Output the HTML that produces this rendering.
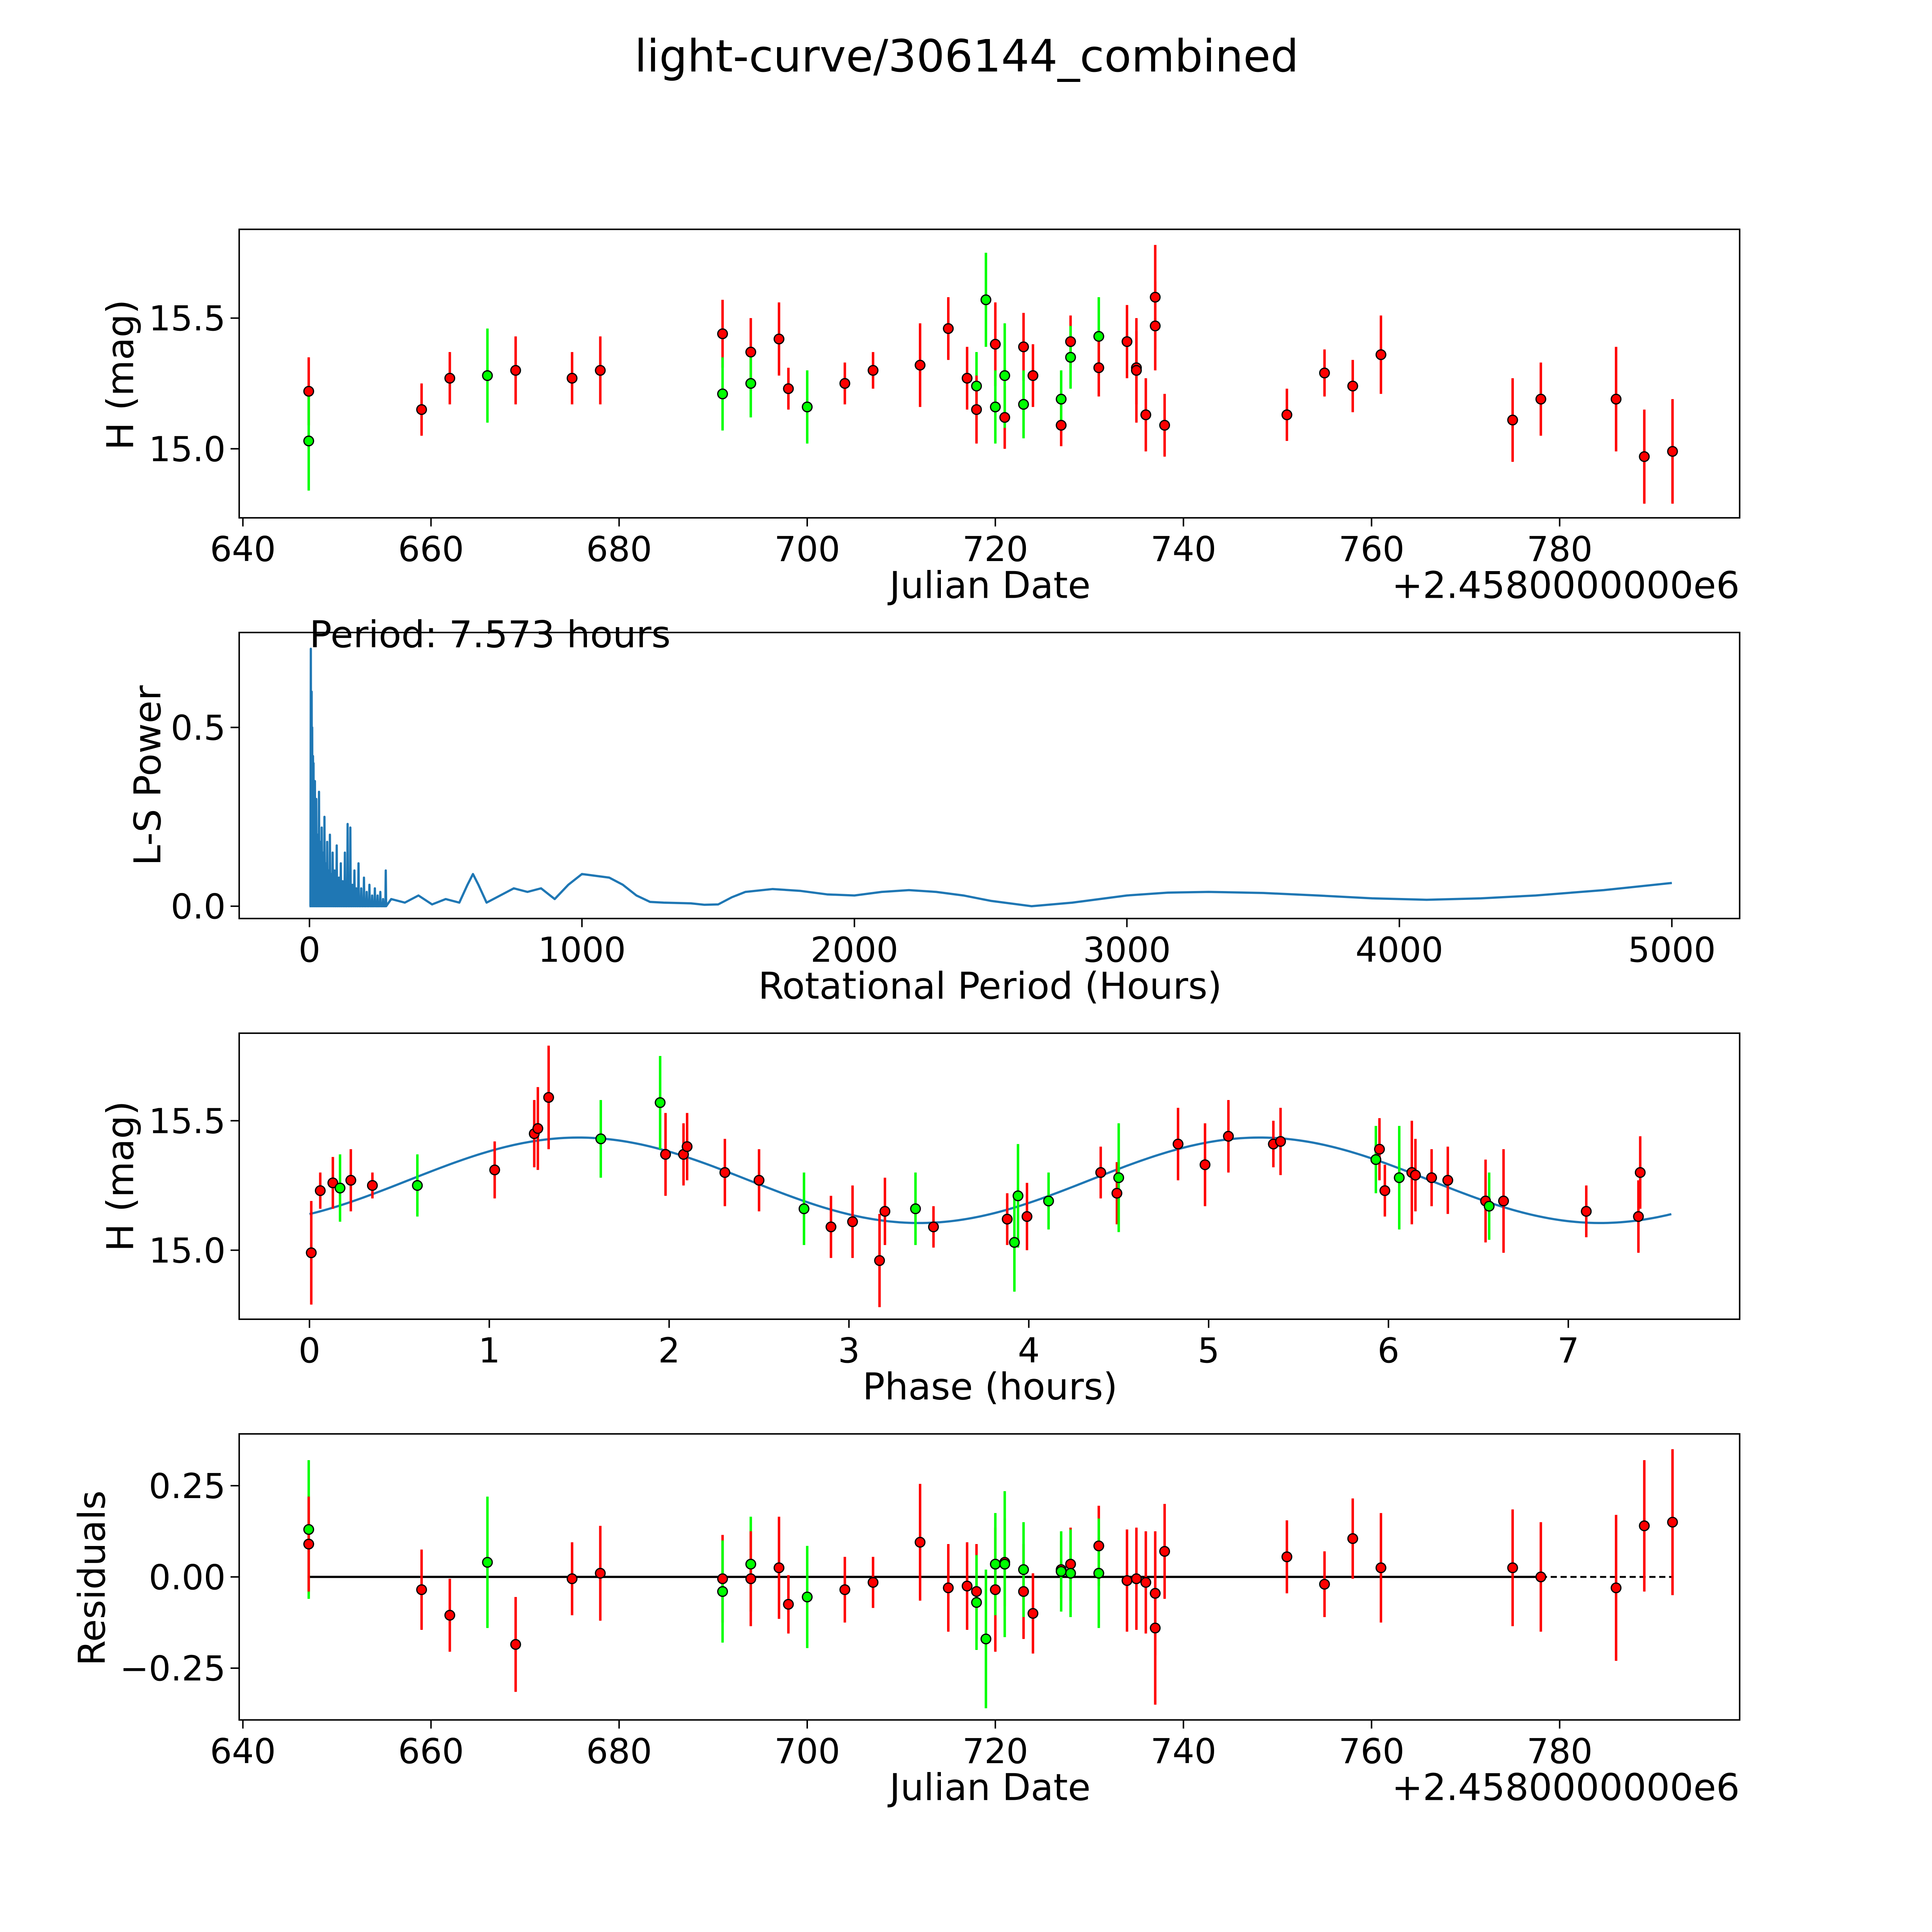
<!DOCTYPE html>
<html><head><meta charset="utf-8"><style>html,body{margin:0;padding:0;background:#fff;overflow:hidden;width:100vw;height:100vh}svg{display:block;width:100vw;height:100vh}text{font-family:"DejaVu Sans","Liberation Sans",sans-serif;fill:#000}</style></head>
<body>
<svg id="fig" viewBox="0 0 1567 1567" preserveAspectRatio="none" xmlns="http://www.w3.org/2000/svg">
<rect x="0" y="0" width="1567" height="1567" fill="#fff"/>
<text x="784" y="58" font-size="36" text-anchor="middle">light-curve/306144_combined</text>
</svg>
<script>
// ---- data ----
const obsDate=[647,647,659,662,666,669,675,678,691,691,694,694,697,698,700,704,707,712,715,717,718,718,719,720,720,721,721,723,723,724,727,727,728,728,731,731,734,735,735,736,737,737,738,751,755,758,761,775,778,786,789,792];
const obsMag=[15.22,15.03,15.15,15.27,15.28,15.30,15.27,15.30,15.44,15.21,15.37,15.25,15.42,15.23,15.16,15.25,15.30,15.32,15.46,15.27,15.24,15.15,15.57,15.40,15.16,15.12,15.28,15.39,15.17,15.28,15.09,15.19,15.41,15.35,15.43,15.31,15.41,15.31,15.30,15.13,15.58,15.47,15.09,15.13,15.29,15.24,15.36,15.11,15.19,15.19,14.97,14.99];
const obsErr=[0.13,0.19,0.10,0.10,0.18,0.13,0.10,0.13,0.13,0.14,0.13,0.13,0.14,0.08,0.14,0.08,0.07,0.16,0.12,0.12,0.13,0.13,0.18,0.16,0.14,0.12,0.20,0.13,0.13,0.12,0.08,0.11,0.10,0.12,0.15,0.11,0.14,0.14,0.20,0.14,0.20,0.17,0.12,0.10,0.09,0.10,0.15,0.16,0.14,0.20,0.18,0.20];
const obsBand=['r','g','r','r','g','r','r','r','r','g','r','g','r','r','g','r','r','r','r','r','g','r','g','r','g','r','g','r','g','r','r','g','r','g','g','r','r','r','r','r','r','r','r','r','r','r','r','r','r','r','r','r'];

const phaseVal=[0.01,0.06,0.13,0.17,0.23,0.35,0.6,1.03,1.25,1.27,1.33,1.62,1.95,1.98,2.08,2.1,2.31,2.5,2.75,2.9,3.02,3.17,3.2,3.37,3.47,3.88,3.92,3.94,3.99,4.11,4.4,4.49,4.5,4.83,4.98,5.11,5.36,5.4,5.93,5.95,5.98,6.06,6.13,6.15,6.24,6.33,6.54,6.56,6.64,7.1,7.39,7.4];
const phaseMag=[14.99,15.23,15.26,15.24,15.27,15.25,15.25,15.31,15.45,15.47,15.59,15.43,15.57,15.37,15.37,15.40,15.30,15.27,15.16,15.09,15.11,14.96,15.15,15.16,15.09,15.12,15.03,15.21,15.13,15.19,15.30,15.22,15.28,15.41,15.33,15.44,15.41,15.42,15.35,15.39,15.23,15.28,15.30,15.29,15.28,15.27,15.19,15.17,15.19,15.15,15.13,15.30];
const phaseErr=[0.2,0.07,0.1,0.13,0.12,0.05,0.12,0.11,0.13,0.16,0.2,0.15,0.18,0.16,0.12,0.13,0.13,0.12,0.14,0.12,0.14,0.18,0.13,0.14,0.08,0.1,0.19,0.2,0.13,0.11,0.1,0.12,0.21,0.14,0.16,0.14,0.09,0.13,0.13,0.12,0.1,0.2,0.2,0.14,0.11,0.13,0.16,0.13,0.2,0.1,0.14,0.14];
const phaseBand=['r','r','r','g','r','r','g','r','r','r','r','g','g','r','r','r','r','r','g','r','r','r','r','g','r','r','g','g','r','g','r','r','g','r','r','r','r','r','g','r','r','g','r','r','r','r','r','g','r','r','r','r'];

const fitMean=[15.27];const fitAmp=[0.165];const fitPhase0=[0.55];const fitHalfPeriod=[3.787];const fitPeriod=[7.573];

const resDate=[647,647,659,662,666,669,675,678,691,691,694,694,697,698,700,704,707,712,715,717,718,718,719,720,720,721,721,723,723,724,727,727,728,728,731,731,734,735,736,737,737,738,751,755,758,761,775,778,786,789,792];
const resVal=[0.13,0.09,-0.035,-0.105,0.04,-0.185,-0.005,0.01,-0.005,-0.04,0.035,-0.005,0.025,-0.075,-0.055,-0.035,-0.015,0.095,-0.03,-0.025,-0.04,-0.07,-0.17,-0.035,0.035,0.04,0.035,-0.04,0.02,-0.1,0.02,0.015,0.035,0.01,0.085,0.01,-0.01,-0.005,-0.015,-0.045,-0.14,0.07,0.055,-0.02,0.105,0.025,0.025,0,-0.03,0.14,0.15];
const resErr=[0.19,0.13,0.11,0.1,0.18,0.13,0.1,0.13,0.12,0.14,0.13,0.13,0.14,0.08,0.14,0.09,0.07,0.16,0.12,0.12,0.13,0.13,0.19,0.17,0.14,0.12,0.2,0.13,0.13,0.11,0.08,0.11,0.1,0.12,0.11,0.15,0.14,0.14,0.14,0.17,0.21,0.13,0.1,0.09,0.11,0.15,0.16,0.15,0.2,0.18,0.2];
const resBand=['g','r','r','r','g','r','r','r','r','g','g','r','r','r','g','r','r','r','r','r','r','g','g','r','g','r','g','r','g','r','r','g','r','g','r','g','r','r','r','r','r','r','r','r','r','r','r','r','r','r','r'];

const lsSpikeP=[5,8,10,13,15,18,20,23,25,30,35,40,45,50,55,60,65,70,75,80,85,92,100,108,115,122,130,140,150,158,165,172,180,190,200,210,220,230,240,250,260,270,280];
const lsSpikeH=[0.72,0.6,0.5,0.42,0.4,0.3,0.35,0.28,0.3,0.2,0.32,0.18,0.22,0.15,0.25,0.12,0.18,0.1,0.2,0.09,0.15,0.1,0.17,0.08,0.12,0.07,0.15,0.23,0.22,0.06,0.1,0.05,0.12,0.05,0.08,0.04,0.06,0.03,0.05,0.03,0.04,0.02,0.1];
const lsSmoothP=[300,350,400,450,500,550,580,600,620,650,700,750,800,850,900,950,1000,1050,1100,1150,1200,1250,1300,1400,1450,1500,1550,1600,1700,1800,1900,2000,2100,2200,2300,2400,2500,2650,2800,3000,3150,3300,3500,3700,3900,4100,4300,4500,4750,5000];
const lsSmoothH=[0.02,0.01,0.03,0.005,0.02,0.01,0.06,0.09,0.06,0.01,0.03,0.05,0.04,0.05,0.02,0.06,0.09,0.085,0.08,0.06,0.03,0.012,0.01,0.008,0.004,0.005,0.025,0.04,0.048,0.043,0.033,0.03,0.04,0.045,0.04,0.03,0.015,0.0,0.01,0.03,0.038,0.04,0.037,0.03,0.022,0.018,0.022,0.03,0.045,0.065];

const dateTicks=[640,660,680,700,720,740,760,780];
const magTicks=[15.0,15.5];
const magTickLabels=['15.0','15.5'];
const lsXTicks=[0,1000,2000,3000,4000,5000];
const lsYTicks=[0.0,0.5];
const phaseTicks=[0,1,2,3,4,5,6,7];
const resTicks=[-0.25,0,0.25];
const resTickLabels=['\u22120.25','0.00','0.25'];

// ---- drawing ----
const NS='http://www.w3.org/2000/svg';
const svg=document.getElementById('fig');
function mk(tag,attrs,parent){const e=document.createElementNS(NS,tag);for(const k in attrs)e.setAttribute(k,attrs[k]);(parent||svg).appendChild(e);return e;}
function lin(d0,d1,p0,p1){return v=>p0+(v-d0)*(p1-p0)/(d1-d0);}
const L=194,R=1411;
const xDate=lin(640,780,197,1265);
const COL={r:'#ff0000',g:'#00ff00'};

function frame(name,top,bot){
  const r=mk('rect',{x:L,y:top,width:R-L,height:bot-top,fill:'none',stroke:'#000','stroke-width':1.2});
  
  
}
function xticks(name,ticks,fx,bot,labels){
  const g=mk('g',{});
  
  
  ticks.forEach((t,i)=>{const x=fx(t);mk('line',{x1:x,x2:x,y1:bot,y2:bot+7,stroke:'#000','stroke-width':1.2},g);
    const tx=mk('text',{x:x,y:bot+35,'font-size':28,'text-anchor':'middle'},g);tx.textContent=labels?labels[i]:String(t);});
}
function yticks(name,ticks,fy,labels){
  const g=mk('g',{});
  
  
  ticks.forEach((t,i)=>{const y=fy(t);mk('line',{x1:L-7,x2:L,y1:y,y2:y,stroke:'#000','stroke-width':1.2},g);
    const tx=mk('text',{x:L-11,y:y+10,'font-size':28,'text-anchor':'end'},g);tx.textContent=labels?labels[i]:String(t);});
}
function label(name,txt,x,y,rot){
  const t=mk('text',{x:x,y:y,'font-size':30,'text-anchor':'middle'});
  if(rot)t.setAttribute('transform','rotate(-90 '+x+' '+y+')');
  t.textContent=txt;
  
  
}
function points(name,xs,ys,es,bs,fx,fy){
  const g=mk('g',{});
  
  
  xs.forEach((xv,i)=>{const x=fx(xv),c=COL[bs[i]];
    const eb=mk('line',{x1:x,x2:x,y1:fy(ys[i]-es[i]),y2:fy(ys[i]+es[i]),stroke:c,'stroke-width':2},g);
    
    });
  xs.forEach((xv,i)=>{const p=mk('circle',{cx:fx(xv),cy:fy(ys[i]),r:3.9,fill:COL[bs[i]],stroke:'#000','stroke-width':1},g);
    
    });
}
function plus(y){const t=mk('text',{x:R,y:y,'font-size':30,'text-anchor':'end'});t.textContent='+2.4580000000e6';
  
  }

// Panel 1
const y1=lin(15.0,15.5,364,258);
frame('lightcurve-axes',186,420);
points('lightcurve-points',obsDate,obsMag,obsErr,obsBand,xDate,y1);
xticks('lightcurve-x-ticks',dateTicks,xDate,420);
yticks('lightcurve-y-ticks',magTicks,y1,magTickLabels);
label('lightcurve-x-title','Julian Date',803,485);
label('lightcurve-y-title','H (mag)',108,304,true);
plus(485);

// Panel 2
const x2=lin(0,5000,251,1356),y2=lin(0,0.5,735,590);
frame('periodogram-axes',513,745);
let d='M'+x2(0)+','+y2(0);
lsSpikeP.forEach((p,i)=>{d+=' L'+x2(p-1.5)+','+y2(0)+' L'+x2(p)+','+y2(lsSpikeH[i])+' L'+x2(p+1.5)+','+y2(0);});
lsSmoothP.forEach((p,i)=>{d+=' L'+x2(p)+','+y2(lsSmoothH[i]);});
const ls=mk('path',{d:d,fill:'none',stroke:'#1f77b4','stroke-width':1.8,'stroke-linejoin':'round'});


xticks('periodogram-x-ticks',lsXTicks,x2,745);
yticks('periodogram-y-ticks',lsYTicks,y2,['0.0','0.5']);
label('periodogram-x-title','Rotational Period (Hours)',803,810);
label('periodogram-y-title','L-S Power',130,629,true);
const pt=mk('text',{x:251,y:525,'font-size':30});pt.textContent='Period: 7.573 hours';



// Panel 3
const x3=lin(0,7,251,1272),y3=lin(15.0,15.5,1014,909);
frame('phase-axes',838,1070);
let fd='';
for(let i=0;i<=300;i++){const p=fitPeriod[0]*i/300;const m=fitMean[0]+fitAmp[0]*Math.sin(2*Math.PI*(p-fitPhase0[0])/fitHalfPeriod[0]);fd+=(i?' L':'M')+x3(p)+','+y3(m);}
const fit=mk('path',{d:fd,fill:'none',stroke:'#1f77b4','stroke-width':1.8});


points('phase-points',phaseVal,phaseMag,phaseErr,phaseBand,x3,y3);
xticks('phase-x-ticks',phaseTicks,x3,1070);
yticks('phase-y-ticks',magTicks,y3,magTickLabels);
label('phase-x-title','Phase (hours)',803,1135);
label('phase-y-title','H (mag)',108,954,true);

// Panel 4
const y4=lin(0,0.25,1279,1205);
frame('residuals-axes',1163,1395);
const zl=mk('line',{x1:xDate(647),x2:xDate(778),y1:y4(0),y2:y4(0),stroke:'#000','stroke-width':1.8});


const zd=mk('line',{x1:xDate(778),x2:xDate(792),y1:y4(0),y2:y4(0),stroke:'#000','stroke-width':1.5,'stroke-dasharray':'5,3'});


points('residual-points',resDate,resVal,resErr,resBand,xDate,y4);
xticks('residuals-x-ticks',dateTicks,xDate,1395);
yticks('residuals-y-ticks',resTicks,y4,resTickLabels);
label('residuals-x-title','Julian Date',803,1460);
label('residuals-y-title','Residuals',85,1280,true);
plus(1460);
</script>
</body></html>
